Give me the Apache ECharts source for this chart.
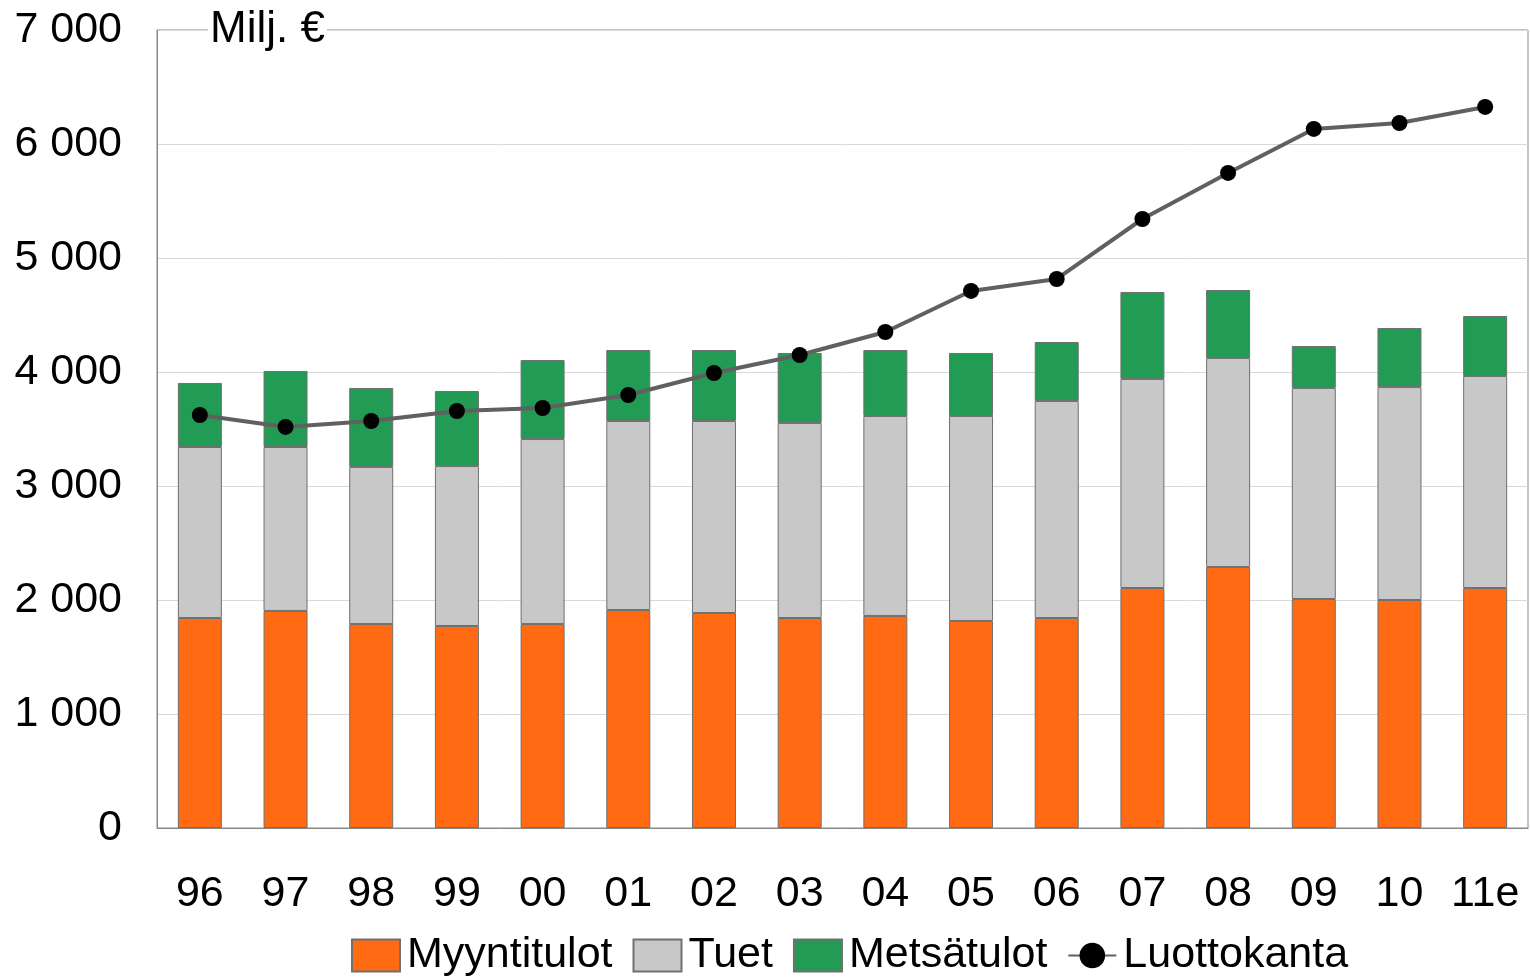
<!DOCTYPE html>
<html><head><meta charset="utf-8">
<script src="https://cdn.jsdelivr.net/npm/echarts@6/dist/echarts.min.js"></script>
<style>html,body{margin:0;padding:0;background:#fff}#c{width:1530px;height:979px}</style>
</head><body><div id="c"></div>
<script>
const categories = ['96','97','98','99','00','01','02','03','04','05','06','07','08','09','10','11e'];
const myyntitulot = [1842,1904,1789,1772,1789,1912,1886,1842,1860,1816,1842,2105,2289,2009,2000,2105];
const tuet = [1500,1438,1378,1403,1623,1658,1684,1711,1754,1798,1904,1834,1834,1851,1868,1860];
const metsatulot = [562,667,693,658,693,623,623,614,579,553,517,763,596,368,518,526];
const luottokanta = [3623,3518,3570,3658,3684,3798,3991,4149,4351,4711,4816,5342,5746,6132,6184,6325];
const yTicks = [0,1000,2000,3000,4000,5000,6000,7000];

const chart = echarts.init(document.getElementById('c'));
const border = {borderColor:'#707070', borderWidth:1};
chart.setOption({
  animation:false,
  textStyle:{fontFamily:'Liberation Sans, Arial, sans-serif'},
  grid:{left:157,right:2,top:30,bottom:151,show:true,borderColor:'#888',borderWidth:1},
  legend:{
    top:929, left:346, itemWidth:48, itemHeight:32, itemGap:20,
    textStyle:{fontSize:43,fontFamily:'Liberation Sans Narrow, Liberation Sans, Arial',color:'#000',padding:[0,0,0,2]},
    data:[{name:'Myyntitulot',icon:'rect'},{name:'Tuet',icon:'rect'},{name:'Metsätulot',icon:'rect'},'Luottokanta']
  },
  xAxis:{type:'category',data:categories,
    axisLine:{lineStyle:{color:'#888',width:1}},axisTick:{show:false},
    axisLabel:{color:'#000',fontSize:43,margin:45,interval:0}},
  yAxis:{type:'value',min:0,max:7000,interval:1000,
    axisLine:{show:true,lineStyle:{color:'#888'}},axisTick:{show:false},
    splitLine:{lineStyle:{color:'#d9d9d9'}},
    axisLabel:{color:'#000',fontSize:43,margin:35,
      formatter:v=>yTicks.includes(v)?String(v).replace(/\B(?=(\d{3})+(?!\d))/g,' '):''}},
  graphic:[{type:'text',left:208,top:8,z:100,style:{text:'Milj. €',fontSize:44,fill:'#000',
    fontFamily:'Liberation Sans, Arial',backgroundColor:'#fff',padding:[0,2]}}],
  series:[
    {name:'Myyntitulot',type:'bar',stack:'s',data:myyntitulot,barWidth:44,itemStyle:Object.assign({color:'#ff6a13'},border)},
    {name:'Tuet',type:'bar',stack:'s',data:tuet,barWidth:44,itemStyle:Object.assign({color:'#c8c8c8'},border)},
    {name:'Metsätulot',type:'bar',stack:'s',data:metsatulot,barWidth:44,itemStyle:Object.assign({color:'#229b55'},border)},
    {name:'Luottokanta',type:'line',data:luottokanta,symbol:'circle',symbolSize:16,
      lineStyle:{color:'#606060',width:4},itemStyle:{color:'#000'},z:10}
  ]
});
</script></body></html>
